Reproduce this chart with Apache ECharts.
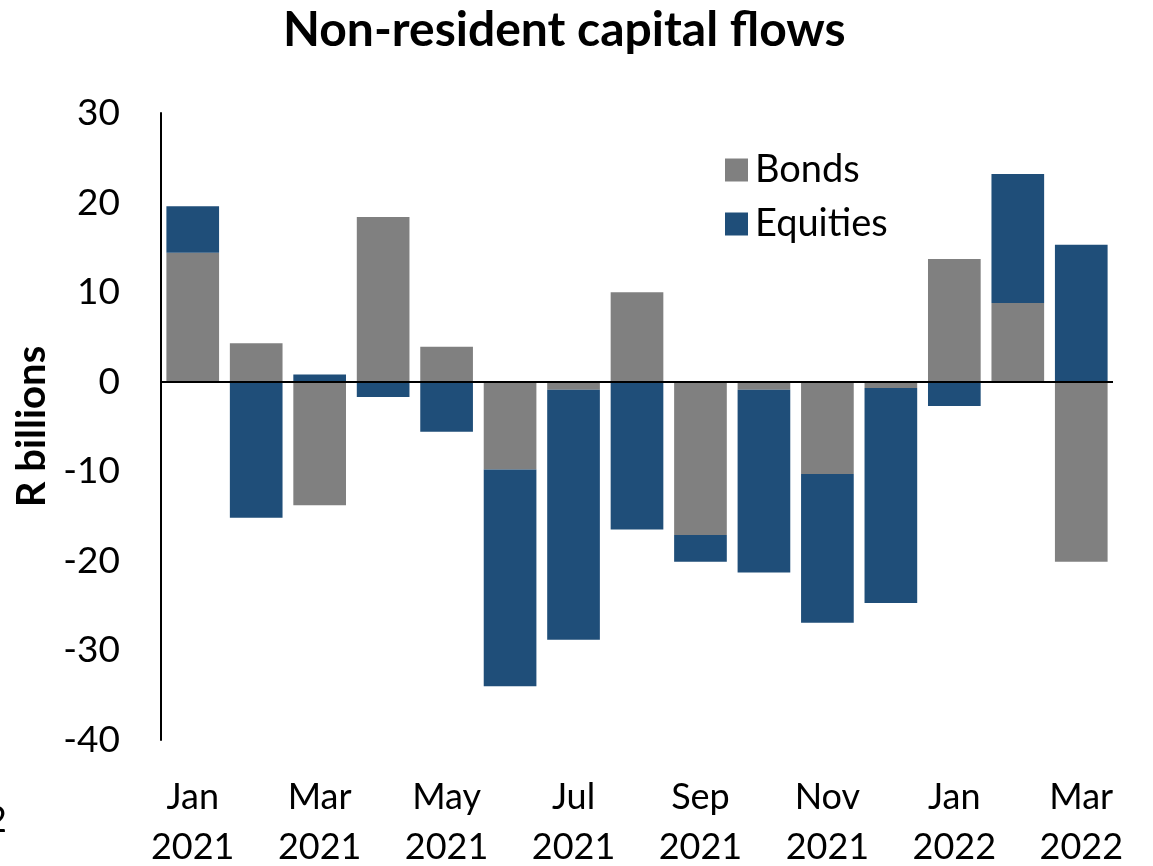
<!DOCTYPE html>
<html>
<head>
<meta charset="utf-8">
<script src="https://cdn.jsdelivr.net/npm/echarts@6/dist/echarts.min.js"></script>
<style>
  html, body { margin: 0; padding: 0; background: #fff; }
  #chart { width: 1153px; height: 866px; }
</style>
</head>
<body>
<div id="chart"></div>
<script>
// Monthly non-resident flows, R billions
const months = [
  'Jan\n2021', 'Feb\n2021', 'Mar\n2021', 'Apr\n2021', 'May\n2021',
  'Jun\n2021', 'Jul\n2021', 'Aug\n2021', 'Sep\n2021', 'Oct\n2021',
  'Nov\n2021', 'Dec\n2021', 'Jan\n2022', 'Feb\n2022', 'Mar\n2022'
];
const bonds = [14.4, 4.3, -13.8, 18.4, 3.9, -9.8, -0.9, 10.0, -17.1, -0.9, -10.3, -0.7, 13.7, 8.8, -20.1];
const equities = [5.2, -15.2, 0.8, -1.7, -5.6, -24.2, -27.9, -16.5, -3.0, -20.4, -16.6, -24.0, -2.7, 14.4, 15.3];

const FONT = 'Lato, "Open Sans", sans-serif';

const chart = echarts.init(document.getElementById('chart'), null, { renderer: 'canvas' });

chart.setOption({
  backgroundColor: '#ffffff',
  animation: false,
  title: {
    text: 'Non-resident capital flows',
    left: 278,
    top: 2,
    textStyle: { fontFamily: FONT, fontSize: 48, fontWeight: 'bold', color: '#000' }
  },
  legend: {
    orient: 'vertical',
    left: 720,
    top: 146,
    itemWidth: 23,
    itemHeight: 23,
    itemGap: 16,
    icon: 'rect',
    textStyle: { fontFamily: FONT, fontSize: 38, color: '#000', lineHeight: 38, padding: [0, 0, 0, 2] },
    data: ['Bonds', 'Equities']
  },
  // plot area fixed in pixels; the two-line month labels may run to the page edge
  grid: { left: 161, width: 952, top: 113, height: 627, containLabel: false, outerBoundsMode: 'none' },
  xAxis: {
    type: 'category',
    data: months,
    axisLine: { show: false, onZero: false },
    axisTick: { show: false },
    axisLabel: {
      interval: 1,
      margin: 32,
      fontFamily: FONT,
      fontSize: 36,
      lineHeight: 50,
      color: '#000'
    }
  },
  yAxis: {
    type: 'value',
    min: -40,
    max: 30,
    interval: 10,
    name: 'R billions',
    nameLocation: 'middle',
    nameRotate: 90,
    nameGap: 107,
    nameTextStyle: { fontFamily: FONT, fontSize: 40, fontWeight: 'bold', color: '#000' },
    axisLine: { show: true, lineStyle: { color: '#000', width: 2 } },
    axisTick: { show: false },
    splitLine: { show: false },
    axisLabel: { margin: 41, fontFamily: FONT, fontSize: 37, color: '#000' }
  },
  series: [
    {
      name: 'Bonds',
      type: 'bar',
      stack: 'flows',
      data: bonds,
      barCategoryGap: '17%',
      itemStyle: { color: '#808080' },
      markLine: {
        silent: true,
        symbol: ['none', 'none'],
        label: { show: false },
        lineStyle: { color: '#000', width: 2, type: 'solid' },
        data: [{ yAxis: 0 }],
        z: 10
      }
    },
    {
      name: 'Equities',
      type: 'bar',
      stack: 'flows',
      data: equities,
      barCategoryGap: '17%',
      itemStyle: { color: '#1F4E79' }
    }
  ],
  graphic: [
    {
      type: 'text',
      left: -14,
      top: 802,
      style: { text: '2', fontFamily: FONT, fontSize: 36, fill: '#000' }
    }
  ]
});
</script>
</body>
</html>
